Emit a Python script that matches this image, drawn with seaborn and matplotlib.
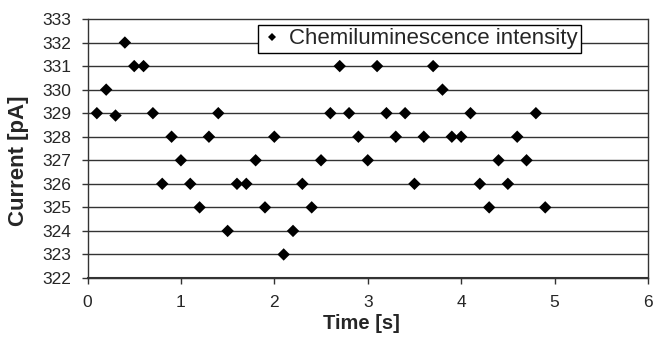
import matplotlib
matplotlib.use("Agg")
import matplotlib.pyplot as plt
import seaborn as sns
import pandas as pd
import numpy as np

time_s = [0.1, 0.2, 0.3, 0.4, 0.5, 0.6, 0.7, 0.8, 0.9, 1.0,
          1.1, 1.2, 1.3, 1.4, 1.5, 1.6, 1.7, 1.8, 1.9, 2.0,
          2.1, 2.2, 2.3, 2.4, 2.5, 2.6, 2.7, 2.8, 2.9, 3.0,
          3.1, 3.2, 3.3, 3.4, 3.5, 3.6, 3.7, 3.8, 3.9, 4.0,
          4.1, 4.2, 4.3, 4.4, 4.5, 4.6, 4.7, 4.8, 4.9]
current_pA = [329, 330, 328.9, 332, 331, 331, 329, 326, 328, 327,
              326, 325, 328, 329, 324, 326, 326, 327, 325, 328,
              323, 324, 326, 325, 327, 329, 331, 329, 328, 327,
              331, 329, 328, 329, 326, 328, 331, 330, 328, 328,
              329, 326, 325, 327, 326, 328, 327, 329, 325]
series_name = "Chemiluminescence intensity"
x_ticks = [0, 1, 2, 3, 4, 5, 6]
y_ticks = list(range(322, 334))

df = pd.DataFrame({"Time [s]": time_s, "Current [pA]": current_pA,
                   "series": series_name})

sns.set_style("white")
plt.rcParams["font.family"] = ["Liberation Sans", "DejaVu Sans"]

fig = plt.figure(figsize=(6.54, 3.38), dpi=100)
ax = fig.add_axes([0.1338, 0.1775, 0.9908 - 0.1338, 0.9438 - 0.1775])

for yv in y_ticks:
    ax.axhline(yv, color="#333333", lw=1.0, zorder=1, clip_on=False)

sns.scatterplot(data=df, x="Time [s]", y="Current [pA]", hue="series",
                palette=["black"], marker="D", s=40, linewidth=0,
                ax=ax, zorder=3)

ax.set_xlim(0, 6)
ax.set_ylim(322, 333)
ax.set_xticks(x_ticks)
ax.set_yticks(y_ticks)
ax.tick_params(axis="both", direction="out", length=4.5, width=1,
               color="#333333", labelsize=12.5, bottom=True, left=True)
ax.tick_params(axis="y", pad=7)
ax.tick_params(axis="x", pad=8)
for side in ["left", "bottom", "right"]:
    ax.spines[side].set_color("#333333")
    ax.spines[side].set_linewidth(1.0)
ax.spines["top"].set_visible(False)
ax.spines["bottom"].set_linewidth(1.5)

ax.set_xlabel("Time [s]", fontsize=14.5, fontweight="bold", va="top")
ax.xaxis.set_label_coords(0.488, -0.1405)
ax.set_ylabel("Current [pA]", fontsize=16, fontweight="bold")
ax.yaxis.set_label_coords(-0.105, 0.4537)

leg = ax.legend(loc="upper left",
                bbox_to_anchor=(258 / 654, 1 - 25 / 338),
                bbox_transform=fig.transFigure,
                frameon=True, fancybox=False, fontsize=16, handletextpad=0.25,
                borderpad=0.15, markerscale=0.6, handlelength=1.0,
                borderaxespad=0)
leg.get_frame().set_edgecolor("black")
leg.get_frame().set_linewidth(1.0)
leg.get_frame().set_alpha(1)

fig.savefig("out.png", dpi=100)
